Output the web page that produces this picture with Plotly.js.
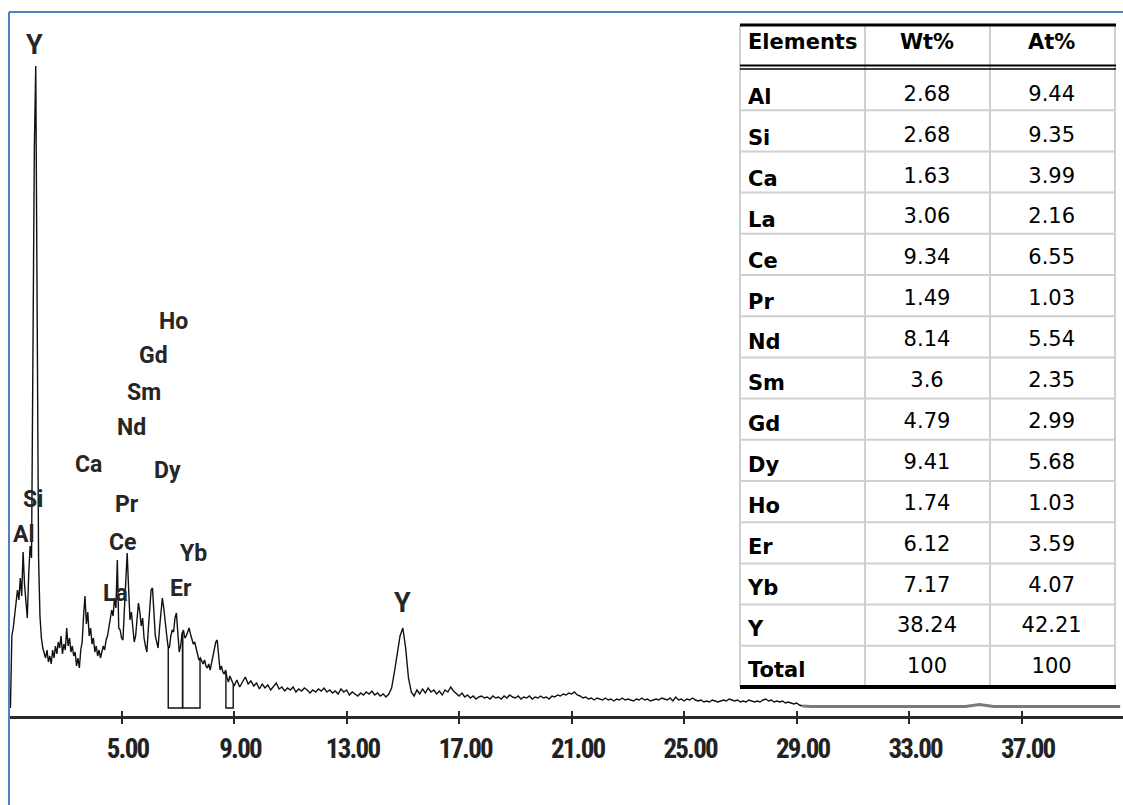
<!DOCTYPE html>
<html><head><meta charset="utf-8">
<script src="https://cdn.plot.ly/plotly-3.0.1.min.js"></script>
<style>html,body{margin:0;padding:0;background:#fff}#chart{width:1123px;height:805px}
#chart .xtick text{letter-spacing:-1.8px}</style>
</head><body><div id="chart"></div>
<script>
// ---- spectrum (counts), channels at uniform energy steps ----
const lowStart = 1.05, lowStep = 0.05;
const lowCounts = [0,72,80,92,104,118,108,130,112,156,124,104,90,134,162,150,335,560,642,330,
150,92,70,60,56,50,58,46,52,44,58,50,62,54,66,60,72,54,64,58,
80,62,70,56,62,52,56,42,50,40,58,66,92,112,84,96,72,80,64,70,
56,62,52,58,50,56,62,58,68,72,82,90,98,92,110,100,148,80,78,70,
68,98,130,155,120,88,96,78,66,72,90,105,96,82,90,70,62,56,78,100,
118,120,90,72,66,60,80,96,110,100,84,74,62,60,72,78,76,90,95,70,
56,62,74,78,70,72,76,80,74,68,64,66,60,52,48,50,46,44,48,42,
40,44,38,46,52,58,66,68,50,38,42,36,34,38,30,26,32,28,24];
const midStart = 9.0, midStep = 0.1;
const midCounts = [22,28,21,26,31,24,27,22,25,19,24,20,23,18,22,25,19,21,17,20,
18,21,16,19,17,20,18,15,18,16,19,17,20,16,18,15,17,14,19,16,
18,13,16,14,12,15,13,16,14,17,13,15,12,14,11,14,20,36,54,72,
80,60,30,16,12,18,14,19,15,20,16,18,14,17,13,18,16,21,17,14,
12,15,11,13,10,12,9,11,12,10,11,9,12,10,11,9,12,10,13,11,
10,12,9,11,10,12,9,11,10,12,10,11,9,12,11,13,12,14,13,15,
14,16,13,12,10,11,9,10,8,10,9,8,10,8,9,7,9,8,10,8,
9,8,7,9,8,10,8,9,7,8,9,8,10,9,8,10,7,11,8,9,
7,9,8,10,8,7,8,6,7,6,8,7,6,7,8,7,9,8,7,8,
6,7,6,8,7,6,7,6,8,9,7,8,6,7,6,7,5,6,5,4,5,3,2];
const tailStart = 29.5, tailStep = 0.5;
const tailCounts = [1.5,1.5,1.5,1.5,1.5,1.5,1.5,1.5,1.5,1.5,1.5,1.5,3.5,1.5,1.5,1.5,1.5,1.5,1.5,1.5,1.5,1.5,1.5];

// ---- regions of interest (keV) ----
const roiLo = [6.66, 7.17, 8.71];
const roiHi = [7.17, 7.79, 8.97];

// ---- peak labels ----
const peakLabels = ['Y','Al','Si','Ca','La','Ce','Pr','Nd','Sm','Gd','Ho','Dy','Yb','Er','Y'];
const peakE      = [1.92,1.53,1.85,3.84,4.77,5.02,5.21,5.37,5.80,6.15,6.83,6.65,7.54,7.11,14.97];
const peakTextY  = [663,174,209,244,115,166,204,281,316,353,387,238,155,120,105];

// ---- axis ticks ----
const tickVals = [5,9,13,17,21,25,29,33,37];

// ---- composition table ----
const tableHeader = ['Elements','Wt%','At%'];
const elements = ['Al','Si','Ca','La','Ce','Pr','Nd','Sm','Gd','Dy','Ho','Er','Yb','Y','Total'];
const wtPct = [2.68,2.68,1.63,3.06,9.34,1.49,8.14,3.6,4.79,9.41,1.74,6.12,7.17,38.24,100];
const atPct = [9.44,9.35,3.99,2.16,6.55,1.03,5.54,2.35,2.99,5.68,1.03,3.59,4.07,42.21,100];

// ---- build series ----
const specX = [], specY = [];
lowCounts.forEach((c,i)=>{specX.push(+(lowStart+i*lowStep).toFixed(3)); specY.push(c);});
midCounts.forEach((c,i)=>{specX.push(+(midStart+i*midStep).toFixed(3)); specY.push(c);});
const tailX = [specX[specX.length-1]], tailY = [specY[specY.length-1]];
tailCounts.forEach((c,i)=>{tailX.push(+(tailStart+i*tailStep).toFixed(3)); tailY.push(c);});

function specAt(e){
  for(let i=0;i<specX.length-1;i++){
    if(e>=specX[i] && e<=specX[i+1]){
      const t=(e-specX[i])/(specX[i+1]-specX[i]);
      return specY[i]+t*(specY[i+1]-specY[i]);
    }
  }
  return 0;
}
const roiX=[], roiY=[];
roiLo.forEach((a,i)=>{
  const b=roiHi[i];
  roiX.push(a,a,b,b,null); roiY.push(specAt(a),0,0,specAt(b),null);
});

// pixel helpers for layout decoration (plot area: x 9..1123, y 12..716)
const W=1123,H=805,L=9,T=12,B=89;
const pw=W-L, ph=H-T-B;
const pxX=p=>(p-L)/pw, pxY=p=>(H-B-p)/ph;

// table geometry (pixels)
const tLeft=740, tRight=1115, tTop=25, tHeadBottom=69, tRowH=41.2, tBottom=687;
const colEdges=[740,865,990,1115];

const tableFont={family:'DejaVu Sans, sans-serif', size:21, color:'#000'};
const noLine={color:'rgba(0,0,0,0)', width:0};
const clear={color:'rgba(0,0,0,0)'};
const traces = [
  {type:'scatter', mode:'lines', x:specX, y:specY, line:{color:'#111', width:1.4}, hoverinfo:'skip'},
  {type:'scatter', mode:'lines', x:tailX, y:tailY, line:{color:'#7a7a7a', width:3}, hoverinfo:'skip'},
  {type:'scatter', mode:'lines', x:roiX, y:roiY, xaxis:'x2', line:{color:'#111', width:1.4}, hoverinfo:'skip'},
  {type:'table',
   domain:{x:[pxX(tLeft), pxX(tRight)], y:[pxY(700), pxY(22)]},
   columnwidth:[125,125,125],
   header:{values:tableHeader.map(h=>'<b>'+h+'</b>'), align:['left','center','center'], height:55,
           line:noLine, fill:clear, font:tableFont},
   cells:{values:[elements.map(e=>'<b>'+e+'</b>'), wtPct.map(String), atPct.map(String)],
          align:['left','center','center'], height:40.9,
          line:noLine, fill:clear, font:tableFont}
  }
];

const annotations = peakLabels.map((t,i)=>({
  x:peakE[i], y:peakTextY[i], xref:'x', yref:'y', text:t, showarrow:false,
  xanchor:'center', yanchor:'middle',
  font:{family:'Roboto, Liberation Sans, sans-serif', size: t==='Y'?27:23, color:'#262626', weight:'bold'}
}));

const blue='#4F81BD', grid='#d0d0d0';
const shapes = [
  {type:'line', xref:'paper', yref:'paper', x0:0, x1:0, y0:1, y1:pxY(H+5), line:{color:blue, width:2}},
  {type:'line', xref:'paper', yref:'paper', x0:0, x1:1.01, y0:1, y1:1, line:{color:blue, width:2}}
];
colEdges.forEach(cx=>shapes.push({type:'line', xref:'paper', yref:'paper', x0:pxX(cx), x1:pxX(cx),
  y0:pxY(tBottom), y1:pxY(tTop), line:{color:grid, width:2}, layer:'above'}));
for(let k=1;k<elements.length;k++){
  const yy=tHeadBottom+k*tRowH;
  shapes.push({type:'line', xref:'paper', yref:'paper', x0:pxX(tLeft), x1:pxX(tRight), y0:pxY(yy), y1:pxY(yy),
    line:{color:grid, width:2}, layer:'above'});
}
shapes.push(
  {type:'line', xref:'paper', yref:'paper', x0:pxX(tLeft), x1:pxX(tRight+1), y0:pxY(tTop), y1:pxY(tTop), line:{color:'#000', width:3}, layer:'above'},
  {type:'line', xref:'paper', yref:'paper', x0:pxX(tLeft), x1:pxX(tRight+1), y0:pxY(65.5), y1:pxY(65.5), line:{color:'#000', width:2}, layer:'above'},
  {type:'line', xref:'paper', yref:'paper', x0:pxX(tLeft), x1:pxX(tRight+1), y0:pxY(69), y1:pxY(69), line:{color:'#000', width:1.5}, layer:'above'},
  {type:'line', xref:'paper', yref:'paper', x0:pxX(tLeft), x1:pxX(tRight+1), y0:pxY(tBottom), y1:pxY(tBottom), line:{color:'#000', width:4}, layer:'above'}
);

const xRange=[(L+19.1)/28.13, (W+19.1)/28.13];
const tickFont={family:'Roboto Condensed, Liberation Sans Narrow, Roboto, sans-serif', size:27, color:'#222', weight:'bold'};

const layout = {
  width:W, height:H, margin:{l:L, r:0, t:T, b:B, pad:0},
  paper_bgcolor:'#fff', plot_bgcolor:'#fff', showlegend:false,
  xaxis:{range:xRange, showline:true, linecolor:'#2a2a2a', linewidth:2.5, ticks:'outside', ticklen:5, tickwidth:2, tickcolor:'#2a2a2a',
         tickmode:'array', tickvals:tickVals, ticktext:tickVals.map(v=>v.toFixed(2)), tickfont:tickFont,
         ticklabelshift:6, ticklabelstandoff:2, showgrid:false, zeroline:false, fixedrange:true},
  xaxis2:{overlaying:'x', matches:'x', anchor:'y', side:'bottom', range:xRange, ticks:'inside', ticklen:5, tickwidth:2, tickcolor:'#2a2a2a',
          tickmode:'array', tickvals:tickVals, showticklabels:false, showline:false, showgrid:false, zeroline:false, fixedrange:true},
  yaxis:{range:[-8, 696], visible:false, fixedrange:true},
  annotations, shapes
};

Plotly.newPlot('chart', traces, layout, {staticPlot:true, displayModeBar:false});
</script></body></html>
